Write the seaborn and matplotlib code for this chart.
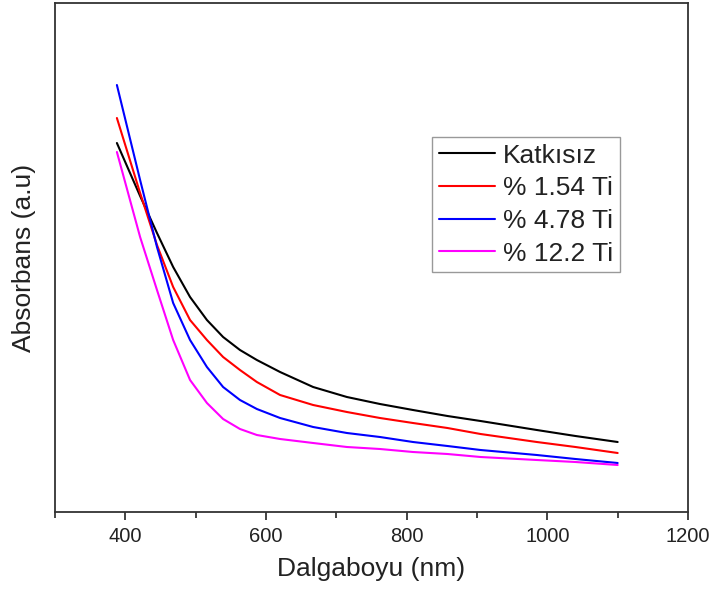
import numpy as np
import pandas as pd
import matplotlib
matplotlib.use("Agg")
import matplotlib.pyplot as plt
from matplotlib.ticker import MultipleLocator
import seaborn as sns

wavelength = [388, 421, 445, 468, 492, 516, 539, 563, 587, 620, 667, 715, 762, 809, 858, 905, 985, 1040, 1100]
katkisiz = [0.9225, 0.790, 0.6975, 0.6125, 0.5375, 0.480, 0.4375, 0.405, 0.380, 0.350, 0.3125, 0.2875, 0.270, 0.255, 0.240, 0.2275, 0.205, 0.190, 0.175]
ti_154 = [0.985, 0.7975, 0.6675, 0.5625, 0.480, 0.430, 0.3875, 0.355, 0.325, 0.2925, 0.2675, 0.250, 0.235, 0.2225, 0.210, 0.195, 0.175, 0.1625, 0.1475]
ti_478 = [1.0675, 0.830, 0.6625, 0.5225, 0.430, 0.3625, 0.3125, 0.280, 0.2575, 0.235, 0.2125, 0.1975, 0.1875, 0.175, 0.165, 0.155, 0.1425, 0.1325, 0.1225]
ti_122 = [0.900, 0.6875, 0.555, 0.430, 0.330, 0.2725, 0.2325, 0.2075, 0.1925, 0.1825, 0.1725, 0.1625, 0.1575, 0.150, 0.145, 0.1375, 0.130, 0.125, 0.1175]
labels = ["Katkısız", "% 1.54 Ti", "% 4.78 Ti", "% 12.2 Ti"]
colors = ["#000000", "#ff0000", "#0000ff", "#ff00ff"]

rows = []
for lab, vals in zip(labels, [katkisiz, ti_154, ti_478, ti_122]):
    for w, v in zip(wavelength, vals):
        rows.append({"wl": w, "abs": v, "sample": lab})
df = pd.DataFrame(rows)

sns.set_style("white")
plt.rcParams["font.family"] = ["Liberation Sans", "DejaVu Sans"]

fig = plt.figure(figsize=(7.13, 5.99), dpi=100)
ax = fig.add_axes([55/713, 87/599, 633/713, 509/599])

sns.lineplot(data=df, x="wl", y="abs", hue="sample", hue_order=labels,
             palette=dict(zip(labels, colors)), linewidth=1.5, ax=ax,
             estimator=None, sort=False)
for ln in ax.get_lines():
    ln.set_solid_joinstyle("round")

ax.set_xlim(300, 1200)
ax.set_ylim(0, 1.2725)
ax.xaxis.set_minor_locator(MultipleLocator(100))
ax.set_xticks([400, 600, 800, 1000, 1200])
ax.set_yticks([])
ax.tick_params(axis="x", which="major", direction="out", length=6, width=1.2,
               labelsize=14.5, colors="#222222", bottom=True, pad=5)
ax.tick_params(axis="x", which="minor", direction="out", length=4, width=1.2, bottom=True)
for s in ax.spines.values():
    s.set_visible(True)
    s.set_linewidth(1.3)
    s.set_color("#333333")

ax.set_xlabel("Dalgaboyu (nm)", fontsize=19, color="#222222", labelpad=8)
ax.set_ylabel("Absorbans (a.u)", fontsize=19, color="#222222", labelpad=14)

leg = ax.legend(loc="upper left", bbox_to_anchor=(432/713, 1 - 137/599),
                bbox_transform=fig.transFigure, fontsize=19, frameon=True,
                fancybox=False, edgecolor="#999999", framealpha=1,
                handlelength=2.15, handletextpad=0.3, labelspacing=0.33,
                borderpad=0.25, borderaxespad=0)
leg.get_frame().set_linewidth(1.0)
for t in leg.get_texts():
    t.set_color("#222222")

fig.savefig("out.png", dpi=100)
